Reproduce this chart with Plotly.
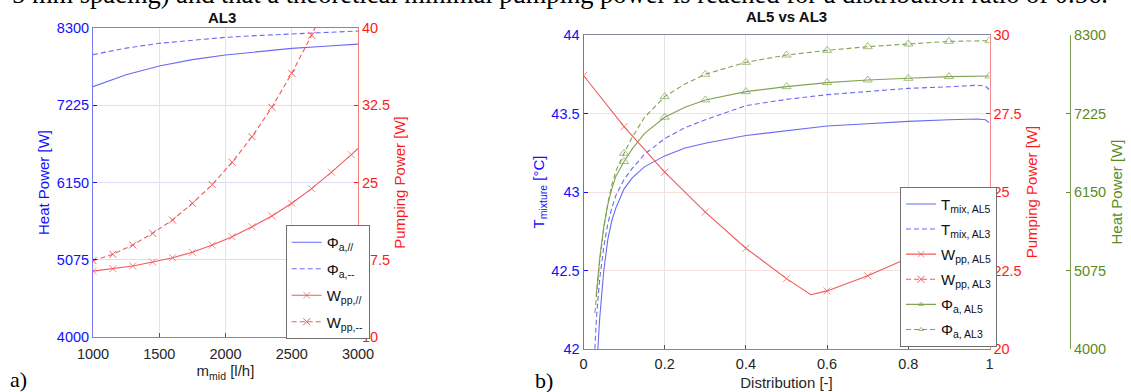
import plotly.graph_objects as go

# ---------------- Panel a) : AL3 ----------------
m_flow = [1000, 1250, 1500, 1750, 2000, 2250, 2500, 2750, 3000]
phi_par = [7484, 7650, 7771, 7860, 7924, 7975, 8017, 8047, 8075]
phi_ser = [7929, 8020, 8087, 8133, 8170, 8196, 8216, 8238, 8258]

m_pp_par = [1000, 1150, 1300, 1450, 1600, 1750, 1900, 2050, 2200, 2350, 2500, 2650, 2800, 2950, 3000]
wpp_par = [16.4, 16.63, 16.9, 17.28, 17.7, 18.22, 18.93, 19.74, 20.7, 21.75, 22.98, 24.4, 26.0, 27.7, 28.3]
m_pp_ser = [1000, 1150, 1300, 1450, 1600, 1750, 1900, 2050, 2200, 2350, 2500, 2650, 2800]
wpp_ser = [17.41, 18.03, 18.93, 20.07, 21.36, 22.98, 24.79, 26.96, 29.45, 32.3, 35.6, 39.3, 43.4]

# ---------------- Panel b) : AL5 vs AL3 ----------------
dist_t5 = [0.032, 0.04, 0.05, 0.06, 0.07, 0.08, 0.1, 0.12, 0.15, 0.2, 0.25, 0.3, 0.4, 0.5, 0.6, 0.7, 0.8, 0.9, 0.97, 0.99, 1.0]
t_al5 = [41.85, 42.2, 42.5, 42.7, 42.82, 42.9, 43.02, 43.09, 43.16, 43.23, 43.28, 43.31, 43.36, 43.39, 43.42, 43.435, 43.45, 43.46, 43.465, 43.46, 43.44]
dist_t3 = [0.026, 0.032, 0.04, 0.05, 0.06, 0.07, 0.08, 0.1, 0.12, 0.15, 0.2, 0.25, 0.3, 0.4, 0.5, 0.6, 0.7, 0.8, 0.9, 0.97, 0.99, 1.0]
t_al3 = [41.9, 42.2, 42.45, 42.65, 42.8, 42.9, 42.98, 43.08, 43.15, 43.24, 43.34, 43.41, 43.46, 43.55, 43.59, 43.62, 43.64, 43.66, 43.67, 43.68, 43.675, 43.65]

dist_pp = [0, 0.1, 0.2, 0.3, 0.4, 0.5, 0.56, 0.6, 0.7, 0.8, 0.9, 1.0]
wpp_al5 = [28.71, 27.08, 25.63, 24.36, 23.21, 22.24, 21.73, 21.85, 22.33, 22.9, 23.55, 24.32]

dist_phi5 = [0.031, 0.04, 0.05, 0.06, 0.07, 0.08, 0.1, 0.12, 0.15, 0.2, 0.25, 0.3, 0.4, 0.5, 0.6, 0.7, 0.8, 0.9, 1.0]
phi_al5 = [4720, 5250, 5680, 5980, 6200, 6370, 6567, 6740, 6950, 7174, 7310, 7411, 7525, 7593, 7648, 7684, 7707, 7730, 7739]
dist_phi3 = [0.028, 0.04, 0.05, 0.06, 0.07, 0.08, 0.1, 0.12, 0.15, 0.2, 0.25, 0.3, 0.4, 0.5, 0.6, 0.7, 0.8, 0.9, 1.0]
phi_al3 = [4493, 5200, 5650, 6000, 6250, 6440, 6681, 6900, 7170, 7456, 7630, 7762, 7926, 8026, 8090, 8140, 8177, 8213, 8222]

marker_steps_b = [0.1 * k for k in range(11)]
heat_ticks = [4000, 5075, 6150, 7225, 8300]

# ---------------- styles ----------------
FONT = "Liberation Sans, Arial, sans-serif"
SERIF = "Liberation Serif, Times New Roman, serif"
BLUE_T = "#1010ff"
RED_T = "#ff1a1a"
GREEN_T = "#5a8c1e"
BLUE_L = "#6a6af2"
RED_L = "#f25a5a"
GREEN_L = "#82a352"
DASH = "5px,3px"


def sizes_at(xs, marks, s):
    return [s if any(abs(x - m) < 1e-9 for m in marks) else 0 for x in xs]


fig = go.Figure()

# ---- panel a traces ----
fig.add_trace(go.Scatter(x=m_flow, y=phi_par, mode="lines", line=dict(color=BLUE_L, width=1.1),
                         name="Φ<sub>a,//</sub>", xaxis="x", yaxis="y", legend="legend", legendgroup="a1"))
fig.add_trace(go.Scatter(x=m_flow, y=phi_ser, mode="lines", line=dict(color=BLUE_L, width=1.1, dash=DASH),
                         name="Φ<sub>a,--</sub>", xaxis="x", yaxis="y", legend="legend", legendgroup="a2"))
fig.add_trace(go.Scatter(x=m_pp_par, y=wpp_par, mode="lines+markers", line=dict(color=RED_L, width=1.1),
                         marker=dict(symbol="x-thin", size=sizes_at(m_pp_par, m_pp_par[:-1], 7),
                                     line=dict(color=RED_L, width=1)),
                         name="W<sub>pp,//</sub>", xaxis="x", yaxis="y2", legend="legend", legendgroup="a3"))
fig.add_trace(go.Scatter(x=m_pp_ser, y=wpp_ser, mode="lines+markers", line=dict(color=RED_L, width=1.1, dash=DASH),
                         marker=dict(symbol="x-thin", size=7, line=dict(color=RED_L, width=1)),
                         name="W<sub>pp,--</sub>", xaxis="x", yaxis="y2", legend="legend", legendgroup="a4"))

# ---- panel b traces ----
fig.add_trace(go.Scatter(x=dist_t5, y=t_al5, mode="lines", line=dict(color=BLUE_L, width=1.1),
                         name="T<sub>mix, AL5</sub>", xaxis="x2", yaxis="y3", legend="legend2", legendgroup="b1"))
fig.add_trace(go.Scatter(x=dist_t3, y=t_al3, mode="lines", line=dict(color=BLUE_L, width=1.1, dash=DASH),
                         name="T<sub>mix, AL3</sub>", xaxis="x2", yaxis="y3", legend="legend2", legendgroup="b2"))
fig.add_trace(go.Scatter(x=dist_pp, y=wpp_al5, mode="lines+markers", line=dict(color=RED_L, width=1.1),
                         marker=dict(symbol="x-thin", size=sizes_at(dist_pp, marker_steps_b, 7),
                                     line=dict(color=RED_L, width=1)),
                         name="W<sub>pp, AL5</sub>", xaxis="x2", yaxis="y4", legend="legend2", legendgroup="b3"))
fig.add_trace(go.Scatter(x=[None], y=[None], mode="lines+markers", line=dict(color=RED_L, width=1.1, dash=DASH),
                         marker=dict(symbol="x-thin", size=7, line=dict(color=RED_L, width=1)),
                         name="W<sub>pp, AL3</sub>", xaxis="x2", yaxis="y4", legend="legend2", legendgroup="b4"))
fig.add_trace(go.Scatter(x=dist_phi5, y=phi_al5, mode="lines+markers", line=dict(color=GREEN_L, width=1.1),
                         marker=dict(symbol="triangle-up-open", size=sizes_at(dist_phi5, marker_steps_b, 8),
                                     color=GREEN_L, line=dict(color=GREEN_L, width=1)),
                         name="Φ<sub>a, AL5</sub>", xaxis="x2", yaxis="y5", legend="legend2", legendgroup="b5"))
fig.add_trace(go.Scatter(x=dist_phi3, y=phi_al3, mode="lines+markers", line=dict(color=GREEN_L, width=1.1, dash=DASH),
                         marker=dict(symbol="triangle-up-open", size=sizes_at(dist_phi3, marker_steps_b, 8),
                                     color=GREEN_L, line=dict(color=GREEN_L, width=1)),
                         name="Φ<sub>a, AL3</sub>", xaxis="x2", yaxis="y5", legend="legend2", legendgroup="b6"))

W, H = 1131, 392
tick_font = dict(family=FONT, size=14.5)
title_font = dict(family=FONT, size=15)

legend_common = dict(bgcolor="white", bordercolor="#707070", borderwidth=1,
                     font=dict(family=FONT, size=15, color="#111111"),
                     itemwidth=30, xanchor="left", yanchor="top")

fig.update_layout(
    template="none",
    width=W, height=H,
    margin=dict(l=0, r=0, t=0, b=0, autoexpand=False),
    paper_bgcolor="white", plot_bgcolor="white",
    font=dict(family=FONT),
    showlegend=True,
    legend=dict(x=285.7 / W, y=1 - 225 / H, tracegroupgap=4, **legend_common),
    legend2=dict(x=900 / W, y=1 - 186.7 / H, tracegroupgap=2.6, **legend_common),
    xaxis=dict(domain=[93 / W, 358 / W], anchor="y", range=[1000, 3000], automargin=False,
               tickvals=[1000, 1500, 2000, 2500, 3000], ticks="inside", ticklen=4, tickcolor="#555",
               ticklabelstandoff=4,
               showgrid=True, gridcolor="#e4e4e4", zeroline=False,
               showline=True, linecolor="#8585a8", mirror=True,
               tickfont=dict(color="#262626", **tick_font),
               title=dict(text="m<sub>mid</sub> [l/h]", font=dict(color="#262626", **title_font), standoff=0)),
    yaxis=dict(domain=[1 - 337 / H, 1 - 28 / H], anchor="x", range=[4000, 8300], automargin=False,
               tickvals=heat_ticks, ticks="inside", ticklen=4, tickcolor=BLUE_T,
               showgrid=True, gridcolor="#dcdcf6", zeroline=False,
               showline=True, linecolor="#7a7af5",
               tickfont=dict(color=BLUE_T, **tick_font),
               title=dict(text="Heat Power [W]", font=dict(color=BLUE_T, **title_font), standoff=3)),
    yaxis2=dict(overlaying="y", side="right", anchor="x", range=[10, 40], automargin=False,
                tickvals=[10, 17.5, 25, 32.5, 40], ticks="inside", ticklen=4, tickcolor=RED_T,
                showgrid=False, zeroline=False, showline=True, linecolor="#f57a7a",
                tickfont=dict(color=RED_T, **tick_font),
                title=dict(text="Pumping Power [W]", font=dict(color=RED_T, **title_font), standoff=5)),
    xaxis2=dict(domain=[583.5 / W, 989.5 / W], anchor="y3", range=[0, 1], dtick=0.2, automargin=False,
                ticks="inside", ticklen=4, tickcolor="#555", ticklabelstandoff=2,
                showgrid=True, gridcolor="#e4e4e4", zeroline=False,
                showline=True, linecolor="#8585a0", mirror=True,
                tickfont=dict(color="#262626", **tick_font),
                title=dict(text="Distribution [-]", font=dict(color="#262626", **title_font), standoff=6)),
    yaxis3=dict(domain=[1 - 349 / H, 1 - 35 / H], anchor="x2", range=[42, 44], dtick=0.5, automargin=False,
                ticks="inside", ticklen=4, tickcolor=BLUE_T,
                showgrid=True, gridcolor="#f9dede", zeroline=False,
                showline=True, linecolor="#6a6af5",
                tickfont=dict(color=BLUE_T, **tick_font),
                title=dict(text="T<sub>mixture</sub> [°C]", font=dict(color=BLUE_T, **title_font), standoff=3)),
    yaxis4=dict(overlaying="y3", side="right", anchor="x2", range=[20, 30], dtick=2.5, automargin=False,
                ticks="inside", ticklen=4, tickcolor=RED_T,
                showgrid=False, zeroline=False, showline=True, linecolor="#f58a8a",
                tickfont=dict(color=RED_T, **tick_font),
                title=dict(text="Pumping Power [W]", font=dict(color=RED_T, **title_font), standoff=5)),
    yaxis5=dict(overlaying="y3", side="right", anchor="free", position=1070 / W, range=[4000, 8300],
                automargin=False,
                tickvals=heat_ticks, ticks="inside", ticklen=4, tickcolor=GREEN_T,
                showgrid=False, zeroline=False, showline=True, linecolor="#7d9c52",
                tickfont=dict(color=GREEN_T, **tick_font),
                title=dict(text="Heat Power [W]", font=dict(color=GREEN_T, **title_font), standoff=6)),
    annotations=[
        dict(text="<b>AL3</b>", x=222 / W, y=1 - 17 / H, xref="paper", yref="paper",
             showarrow=False, font=dict(family=FONT, size=15, color="#111"), xanchor="center", yanchor="middle"),
        dict(text="<b>AL5 vs AL3</b>", x=786.5 / W, y=1 - 16 / H, xref="paper", yref="paper",
             showarrow=False, font=dict(family=FONT, size=15, color="#111"), xanchor="center", yanchor="middle"),
        dict(text="a)", x=8 / W, y=1 - 379 / H, xref="paper", yref="paper", showarrow=False,
             font=dict(family=SERIF, size=22, color="#000"), xanchor="left", yanchor="middle"),
        dict(text="b)", x=533 / W, y=1 - 380 / H, xref="paper", yref="paper", showarrow=False,
             font=dict(family=SERIF, size=22, color="#000"), xanchor="left", yanchor="middle"),
        dict(text="5 mm spacing) and that a theoretical minimal pumping power is reached for a distribution ratio of 0.56.",
             x=1110 / W, y=1 + 6 / H, xref="paper", yref="paper", showarrow=False,
             font=dict(family=SERIF, size=26.5, color="#000"), xanchor="right", yanchor="middle"),
    ],
)

fig.write_html("out.html", config={"displayModeBar": False},
               post_script="document.body.style.margin='0px';")
